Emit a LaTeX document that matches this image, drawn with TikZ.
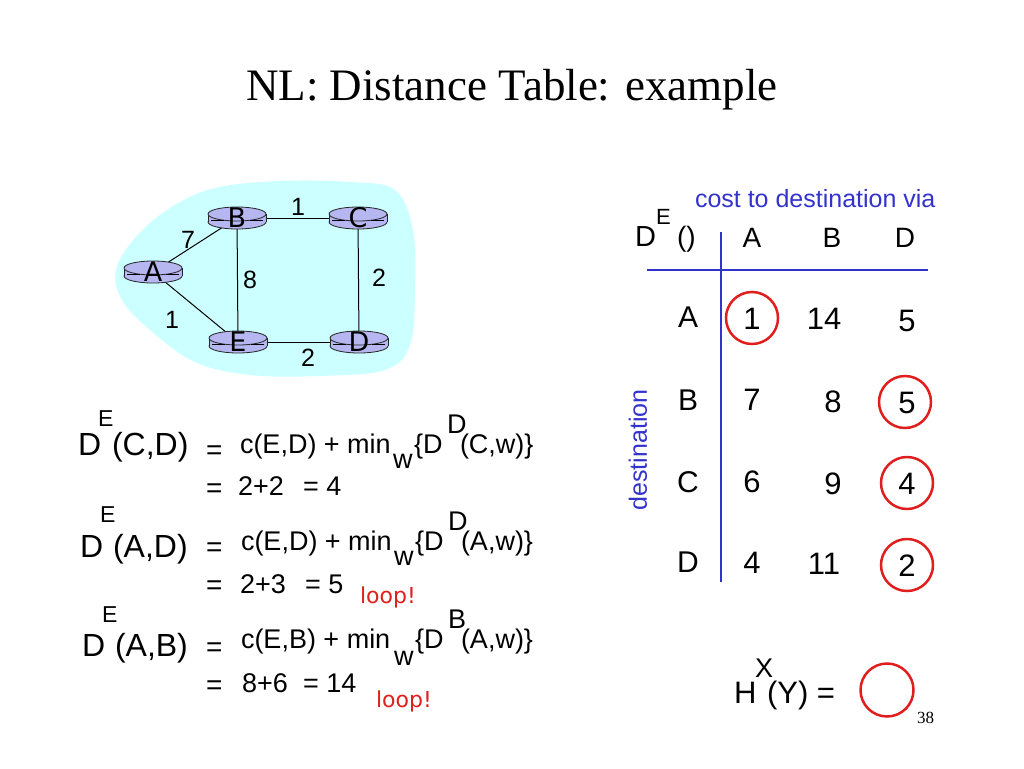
\documentclass[tikz,border=0pt]{standalone}
\usepackage{fontspec}
\setmainfont{Liberation Sans}
\newfontfamily\tmsfont{Liberation Serif}
\newfontfamily\routfont{DejaVu Sans}
\usetikzlibrary{backgrounds}
\definecolor{blobc}{RGB}{204,255,255}
\definecolor{routc}{RGB}{182,182,240}
\definecolor{tblue}{RGB}{51,51,204}
\definecolor{cred}{RGB}{225,30,30}
\newcommand\myfs[1]{\fontsize{#1}{#1}\selectfont}
\tikzset{
  tx/.style={inner sep=0pt, outer sep=0pt, anchor=base west},
  tc/.style={inner sep=0pt, outer sep=0pt, anchor=base},
  rout/.style={inner sep=0pt, outer sep=0pt, minimum width=58pt, minimum height=23pt},
  netedge/.style={draw=black, line width=1pt},
  ring/.style={draw=cred, line width=2.5pt},
  tline/.style={draw=tblue, line width=2pt},
  routline/.style={draw=black!85, line width=0.8pt},
}
\newcommand\router[4]{%
  \fill[routc] (#2,#3+4) ellipse [x radius=29pt, y radius=7pt];
  \draw[routline] (#2,#3+4) ellipse [x radius=29pt, y radius=7pt];
  \fill[routc] (#2-29,#3-4) rectangle (#2+29,#3+4);
  \draw[routline] (#2-29,#3-4) -- (#2-29,#3+4) (#2+29,#3-4) -- (#2+29,#3+4);
  \filldraw[fill=routc, routline] (#2,#3-4) ellipse [x radius=29pt, y radius=7pt];
  \draw[line width=1.3pt] (#2-26,#3+2.5) -- (#2-13,#3+2.5) (#2+13,#3+2.5) -- (#2+26,#3+2.5);
  \node[rout] (#1) at (#2,#3) {\routfont\myfs{27}\raisebox{-9pt}{#4}};
}
\begin{document}
\begin{tikzpicture}[x=1pt,y=-1pt]
\useasboundingbox (0,0) rectangle (1024,768);
\begin{pgfonlayer}{background}
  \fill[white] (0,0) rectangle (1024,768);
  \fill[blobc] plot[smooth cycle, tension=0.6] coordinates {
    (116,270) (135,238) (170,208) (215,188) (280,181) (350,182) (395,190)
    (413,230) (415,290) (410,345) (385,370) (320,376) (250,375) (195,362)
    (150,330) (122,300)};
\end{pgfonlayer}

% title
\node[tc] (title) at (512,100) {\tmsfont\myfs{45}NL: Distance Table: example};

% network
\router{A}{153}{272}{A}
\router{B}{237}{218}{B}
\router{C}{358}{218}{C}
\router{E}{238}{342}{E}
\router{D}{359}{342}{D}
\begin{pgfonlayer}{background}
  \draw[netedge] (A.center) -- (B.center);
  \draw[netedge] (B.center) -- (C.center);
  \draw[netedge] (B.center) -- (E.center);
  \draw[netedge] (C.center) -- (D.center);
  \draw[netedge] (A.center) -- (E.center);
  \draw[netedge] (E.center) -- (D.center);
\end{pgfonlayer}
\node (lAB) at (188,240) {\myfs{25}7};
\node (lBC) at (298,207) {\myfs{25}1};
\node (lBE) at (250,280) {\myfs{25}8};
\node (lCD) at (379,278) {\myfs{25}2};
\node (lAE) at (172,320) {\myfs{25}1};
\node (lED) at (308,358) {\myfs{25}2};

% formula 1
\node[tx] (f1D) at (78,455) {\myfs{32}D};
\node[tx] (f1E) at (98,426) {\myfs{23}E};
\node[tx] (f1arg) at (112,455) {\myfs{32}(C,D)};
\node[tx] (f1eq) at (206,459) {\myfs{28}=};
\node[tx] (f1c) at (240,453) {\myfs{27}c(E,D) + min};
\node[tx] (f1w) at (393,468) {\myfs{27}w};
\node[tx] (f1br) at (414,453) {\myfs{27}\{D};
\node[tx] (f1s) at (447,433) {\myfs{27}D};
\node[tx] (f1r) at (460,453) {\myfs{27}(C,w)\}};
\node[tx] (f2eq) at (206,497) {\myfs{28}=};
\node[tx] (f2a) at (238,495) {\myfs{27}2+2};
\node[tx] (f2b) at (303,495) {\myfs{27}= 4};

% formula 2
\node[tx] (f3D) at (80,557) {\myfs{32}D};
\node[tx] (f3E) at (100,522) {\myfs{23}E};
\node[tx] (f3arg) at (113,557) {\myfs{32}(A,D)};
\node[tx] (f3eq) at (206,556) {\myfs{28}=};
\node[tx] (f3c) at (241,550) {\myfs{27}c(E,D) + min};
\node[tx] (f3w) at (394,565) {\myfs{27}w};
\node[tx] (f3br) at (415,550) {\myfs{27}\{D};
\node[tx] (f3s) at (448,530) {\myfs{27}D};
\node[tx] (f3r) at (461,550) {\myfs{27}(A,w)\}};
\node[tx] (f4eq) at (206,594) {\myfs{28}=};
\node[tx] (f4a) at (240,593) {\myfs{27}2+3};
\node[tx] (f4b) at (305,593) {\myfs{27}= 5};
\node[tx, text=cred] (loop1) at (360,603) {\routfont\myfs{22}loop!};

% formula 3
\node[tx] (f5D) at (82,656) {\myfs{32}D};
\node[tx] (f5E) at (102,622) {\myfs{23}E};
\node[tx] (f5arg) at (115,656) {\myfs{32}(A,B)};
\node[tx] (f5eq) at (206,656) {\myfs{28}=};
\node[tx] (f5c) at (241,648) {\myfs{27}c(E,B) + min};
\node[tx] (f5w) at (394,665) {\myfs{27}w};
\node[tx] (f5br) at (415,648) {\myfs{27}\{D};
\node[tx] (f5s) at (448,628) {\myfs{27}B};
\node[tx] (f5r) at (461,648) {\myfs{27}(A,w)\}};
\node[tx] (f6eq) at (206,694) {\myfs{28}=};
\node[tx] (f6a) at (242,692) {\myfs{27}8+6};
\node[tx] (f6b) at (303,692) {\myfs{27}= 14};
\node[tx, text=cred] (loop2) at (376,707) {\routfont\myfs{22}loop!};

% table
\node[tx, text=tblue] (via) at (695,207) {\myfs{25}cost to destination via};
\node[tx] (hD) at (635,246) {\myfs{29}D};
\node[tx] (hE) at (656,224) {\myfs{22}E};
\node[tx] (hpar) at (677,246) {\myfs{28}()};
\node[tc] (hA) at (752,247) {\myfs{28}A};
\node[tc] (hB) at (832,247) {\myfs{28}B};
\node[tc] (hDD) at (905,247) {\myfs{28}D};
\coordinate (hl1) at (647,270);
\coordinate (hl2) at (928,270);
\coordinate (vl1) at (721,232);
\coordinate (vl2) at (721,582);
\draw[tline] (hl1) -- (hl2);
\draw[tline] (vl1) -- (vl2);
\node[rotate=90, text=tblue, inner sep=0pt] (dest) at (638,450) {\myfs{25}destination};

\node[tc] (rA) at (688,327) {\myfs{30}A};
\node[tc] (rB) at (688,410) {\myfs{30}B};
\node[tc] (rC) at (688,492) {\myfs{30}C};
\node[tc] (rD) at (688,572) {\myfs{30}D};

\node[tc] (vAA) at (752,329) {\myfs{31}1};
\node[tc] (vAB) at (824,329) {\myfs{31}14};
\node[tc] (vAD) at (907,331) {\myfs{31}5};
\node[tc] (vBA) at (752,410) {\myfs{31}7};
\node[tc] (vBB) at (833,412) {\myfs{31}8};
\node[tc] (vBD) at (907,413) {\myfs{31}5};
\node[tc] (vCA) at (752,492) {\myfs{31}6};
\node[tc] (vCB) at (833,494) {\myfs{31}9};
\node[tc] (vCD) at (907,494) {\myfs{31}4};
\node[tc] (vDA) at (752,573) {\myfs{31}4};
\node[tc] (vDB) at (824,574) {\myfs{31}11};
\node[tc] (vDD) at (907,576) {\myfs{31}2};

\node[ring, circle, minimum size=52pt, inner sep=0pt] (cA) at (752,318) {};
\node[ring, circle, minimum size=52pt, inner sep=0pt] (cB) at (905,402) {};
\node[ring, circle, minimum size=52pt, inner sep=0pt] (cC) at (907,483) {};
\node[ring, circle, minimum size=52pt, inner sep=0pt] (cD) at (907,565) {};

% bottom
\node[tx] (hH) at (734,703) {\myfs{31}H};
\node[tx] (hX) at (755,677) {\myfs{27}X};
\node[tx] (hY) at (767,703) {\myfs{31}(Y) =};
\node[ring, circle, minimum size=53pt, inner sep=0pt] (cH) at (887,690) {};
\node[tx] (pg) at (917,723) {\tmsfont\myfs{17}38};
\end{tikzpicture}
\end{document}
